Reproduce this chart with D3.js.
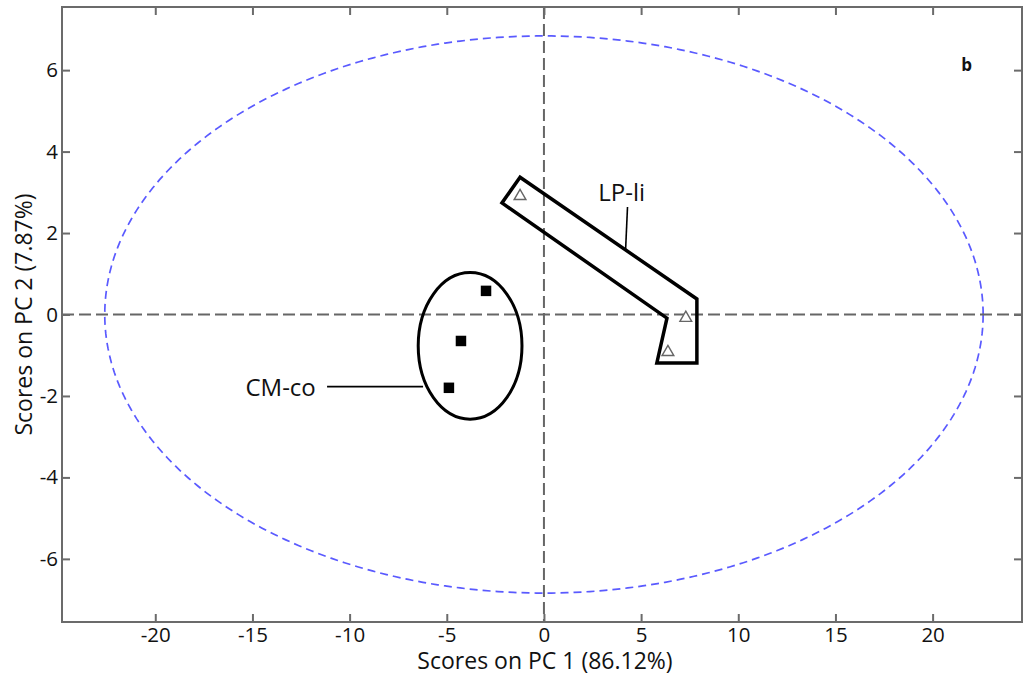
<!DOCTYPE html>
<html>
<head>
<meta charset="utf-8">
<script src="https://cdn.jsdelivr.net/npm/d3@7"></script>
<style>
  html, body { margin: 0; padding: 0; background: #fff; }
  svg { display: block; font-family: "Open Sans", "DejaVu Sans", sans-serif; }
</style>
</head>
<body>
<svg id="chart" width="1025" height="677"></svg>
<script>
// PCA score plot: PC1 vs PC2

const xTicks = [-20, -15, -10, -5, 0, 5, 10, 15, 20];
const yTicks = [-6, -4, -2, 0, 2, 4, 6];
const xTitle = "Scores on PC 1 (86.12%)";
const yTitle = "Scores on PC 2 (7.87%)";
const panelLabel = "b";

// CM-co samples (filled squares)
const cmX = [-2.98, -4.27, -4.89];
const cmY = [0.58, -0.65, -1.80];

// LP-li samples (open triangles)
const lpX = [-1.23, 7.30, 6.38];
const lpY = [2.93, -0.06, -0.90];

// Group outline around LP-li
const lpHullX = [-1.23, -2.16, 6.33, 5.81, 7.87, 7.87];
const lpHullY = [3.37, 2.74, -0.09, -1.19, -1.19, 0.38];

// Group ellipse around CM-co: centre x, centre y, radius x, radius y
const cmEllipse = [-3.8, -0.77, 2.67, 1.8];

// Hotelling T2 confidence ellipse radii
const confRadii = [22.6, 6.84];

const groupLabels = ["CM-co", "LP-li"];

const svg = d3.select("#chart");
const plotLeft = 62, plotRight = 1022, plotTop = 7, plotBottom = 622;

const x = d3.scaleLinear().domain([-24.8, 24.6]).range([plotLeft, plotRight]);
const y = d3.scaleLinear().domain([-7.55, 7.55]).range([plotBottom, plotTop]);

const frameColor = "#6b6b6b";
const tickLen = 8;
const plainNum = d => String(d);   // hyphen-minus, as in the original figure

// Ellipse for the confidence region
const confPts = d3.range(0, 361, 1).map(a => {
  const t = a * Math.PI / 180;
  return [confRadii[0] * Math.cos(t), confRadii[1] * Math.sin(t)];
});
const line = d3.line().x(d => x(d[0])).y(d => y(d[1]));

svg.append("path")
  .attr("d", line(confPts))
  .attr("fill", "none")
  .attr("stroke", "#5a5aff")
  .attr("stroke-width", 1.7)
  .attr("stroke-dasharray", "8,5");

// Zero reference lines
svg.append("line")
  .attr("x1", plotLeft).attr("x2", plotRight)
  .attr("y1", y(0)).attr("y2", y(0))
  .attr("stroke", "#666").attr("stroke-width", 2)
  .attr("stroke-dasharray", "12,5");
svg.append("line")
  .attr("x1", x(0)).attr("x2", x(0))
  .attr("y1", plotTop).attr("y2", plotBottom)
  .attr("stroke", "#666").attr("stroke-width", 2)
  .attr("stroke-dasharray", "12,5");

// Axes (ticks pointing inward on all four sides)
const fontTick = 20.5;
const axBottom = svg.append("g").attr("transform", `translate(0,${plotBottom})`)
  .call(d3.axisBottom(x).tickValues(xTicks).tickSize(-tickLen).tickPadding(5)
    .tickFormat(plainNum));
const axTop = svg.append("g").attr("transform", `translate(0,${plotTop})`)
  .call(d3.axisTop(x).tickValues(xTicks).tickSize(-tickLen).tickFormat(""));
const axLeft = svg.append("g").attr("transform", `translate(${plotLeft},0)`)
  .call(d3.axisLeft(y).tickValues(yTicks).tickSize(-tickLen).tickPadding(4)
    .tickFormat(plainNum));
const axRight = svg.append("g").attr("transform", `translate(${plotRight},0)`)
  .call(d3.axisRight(y).tickValues(yTicks).tickSize(-tickLen).tickFormat(""));

[axBottom, axTop, axLeft, axRight].forEach(g => {
  g.select(".domain").remove();
  g.selectAll(".tick line").attr("stroke", frameColor).attr("stroke-width", 2);
  g.selectAll(".tick text")
    .attr("fill", "#111")
    .attr("font-family", "'Open Sans', sans-serif")
    .attr("font-size", fontTick);
});
axLeft.selectAll(".tick text").attr("x", -4);

// Frame
svg.append("rect")
  .attr("x", plotLeft).attr("y", plotTop)
  .attr("width", plotRight - plotLeft).attr("height", plotBottom - plotTop)
  .attr("fill", "none").attr("stroke", frameColor).attr("stroke-width", 2);

// Group outline: LP-li
const hullPts = lpHullX.map((v, i) => [v, lpHullY[i]]);
svg.append("path")
  .attr("d", line(hullPts) + "Z")
  .attr("fill", "none").attr("stroke", "#000")
  .attr("stroke-width", 3.5).attr("stroke-linejoin", "miter");

// Group ellipse: CM-co
svg.append("ellipse")
  .attr("cx", x(cmEllipse[0])).attr("cy", y(cmEllipse[1]))
  .attr("rx", x(cmEllipse[0] + cmEllipse[2]) - x(cmEllipse[0]))
  .attr("ry", y(cmEllipse[1]) - y(cmEllipse[1] + cmEllipse[3]))
  .attr("fill", "none").attr("stroke", "#000").attr("stroke-width", 3);

// Points
svg.append("g").selectAll("path").data(cmX.map((v, i) => [v, cmY[i]]))
  .join("path")
  .attr("transform", d => `translate(${x(d[0])},${y(d[1])})`)
  .attr("d", d3.symbol(d3.symbolSquare, 110))
  .attr("fill", "#000");

svg.append("g").selectAll("path").data(lpX.map((v, i) => [v, lpY[i]]))
  .join("path")
  .attr("transform", d => `translate(${x(d[0])},${y(d[1]) + 1})`)
  .attr("d", d3.symbol(d3.symbolTriangle, 60))
  .attr("fill", "#fff").attr("stroke", "#666").attr("stroke-width", 1.4);

// Group labels with leader lines
const labelSize = 24;
svg.append("text")
  .attr("x", x(-13.55)).attr("y", y(-1.78))
  .attr("text-anchor", "middle").attr("dominant-baseline", "central")
  .attr("font-size", labelSize).attr("fill", "#111")
  .text(groupLabels[0]);
svg.append("line")
  .attr("x1", x(-11.16)).attr("x2", x(-6.22))
  .attr("y1", y(-1.77)).attr("y2", y(-1.77))
  .attr("stroke", "#000").attr("stroke-width", 1.6);

svg.append("text")
  .attr("x", x(4.0)).attr("y", y(3.03))
  .attr("text-anchor", "middle").attr("dominant-baseline", "central")
  .attr("font-size", labelSize).attr("fill", "#111")
  .text(groupLabels[1]);
svg.append("line")
  .attr("x1", x(4.3)).attr("x2", x(4.2))
  .attr("y1", y(2.64)).attr("y2", y(1.57))
  .attr("stroke", "#000").attr("stroke-width", 1.6);

// Panel label
svg.append("text")
  .attr("x", x(21.75)).attr("y", y(5.98))
  .attr("text-anchor", "middle")
  .attr("font-size", 17).attr("font-weight", "bold").attr("fill", "#111")
  .text(panelLabel);

// Axis titles
svg.append("text")
  .attr("x", (plotLeft + plotRight) / 2 + 3).attr("y", 669)
  .attr("text-anchor", "middle")
  .attr("font-size", 23).attr("fill", "#111")
  .text(xTitle);
svg.append("text")
  .attr("transform", `translate(32,${y(0)}) rotate(-90)`)
  .attr("text-anchor", "middle")
  .attr("font-size", 23).attr("fill", "#111")
  .text(yTitle);
</script>
</body>
</html>
